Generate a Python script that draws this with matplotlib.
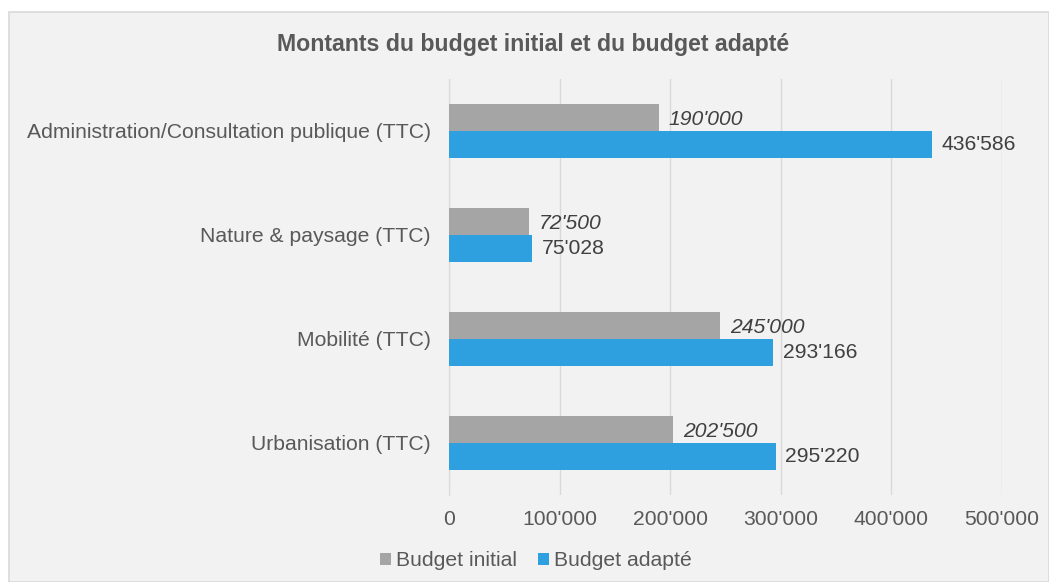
import matplotlib.pyplot as plt
from matplotlib.patches import Rectangle
from matplotlib.ticker import FuncFormatter
from matplotlib import font_manager
import numpy as np

plt.rcParams['font.family'] = ['Liberation Sans', 'DejaVu Sans']

categories = ['Administration/Consultation publique (TTC)', 'Nature & paysage (TTC)',
              'Mobilité (TTC)', 'Urbanisation (TTC)']
budget_initial = [190000, 72500, 245000, 202500]
budget_adapte = [436586, 75028, 293166, 295220]


def fmt(v):
    return '{:,}'.format(int(v)).replace(',', "'")


names = {f.name for f in font_manager.fontManager.ttflist}
narrow = 'Liberation Sans Narrow' in names

fig = plt.figure(figsize=(10.49, 5.82), dpi=100)
fig.patch.set_facecolor('white')
# light grey chart area with border
bg = Rectangle((9 / 1049, 0), 1 - 9 / 1049, 1 - 12 / 582,
               transform=fig.transFigure, facecolor='#f2f2f2',
               edgecolor='#d9d9d9', linewidth=1.2, zorder=-10)
fig.patches.append(bg)

ax = fig.add_axes([449 / 1049, 87 / 582, (1002 - 449) / 1049, (495 - 79) / 582])
ax.set_facecolor('none')

y = np.arange(len(categories))
h = 0.26
gray = '#a5a5a5'
blue = '#2e9fdf'
fs = 15.2
ax.barh(y - h / 2, budget_initial, height=h, color=gray, label='Budget initial', zorder=3)
ax.barh(y + h / 2, budget_adapte, height=h, color=blue, label='Budget adapté', zorder=3)

for yi, v in zip(y, budget_initial):
    ax.annotate(fmt(v), (v, yi - h / 2 + 0.02), xytext=(7, 0), textcoords='offset points',
                va='center', ha='left', fontsize=fs, style='italic', color='#404040')
for yi, v in zip(y, budget_adapte):
    ax.annotate(fmt(v), (v, yi + h / 2), xytext=(7, 0), textcoords='offset points',
                va='center', ha='left', fontsize=fs, color='#404040')

ax.set_xlim(0, 500000)
ax.set_ylim(3.5, -0.5)
ax.set_xticks(np.arange(0, 500001, 100000))
ax.xaxis.set_major_formatter(FuncFormatter(lambda v, p: fmt(v)))
ax.set_yticks(y)
ax.set_yticklabels(categories)
ax.tick_params(axis='both', length=0, labelsize=fs, colors='#595959')
ax.tick_params(axis='x', pad=11)
ax.tick_params(axis='y', pad=13)
ax.grid(axis='x', color='#d9d9d9', linewidth=1, zorder=0)
for s in ['top', 'right', 'bottom']:
    ax.spines[s].set_visible(False)
ax.spines['left'].set_color('#d9d9d9')

if narrow:
    fig.text(533 / 1049, 1 - 45 / 582, 'Montants du budget initial et du budget adapté',
             ha='center', va='center', fontsize=20.5, fontweight='bold', color='#595959',
             family=['Liberation Sans Narrow', 'Liberation Sans'])
else:
    fig.text(533 / 1049, 1 - 45 / 582, 'Montants du budget initial et du budget adapté',
             ha='center', va='center', fontsize=16.7, fontweight='bold', color='#595959')

leg = fig.legend(loc='center', bbox_to_anchor=(536 / 1049, 1 - 561 / 582), ncol=2,
                 frameon=False, fontsize=fs, handlelength=0.5, handleheight=0.5,
                 handletextpad=0.25, columnspacing=1.0)
for t in leg.get_texts():
    t.set_color('#595959')

fig.savefig('out.png', dpi=100)
